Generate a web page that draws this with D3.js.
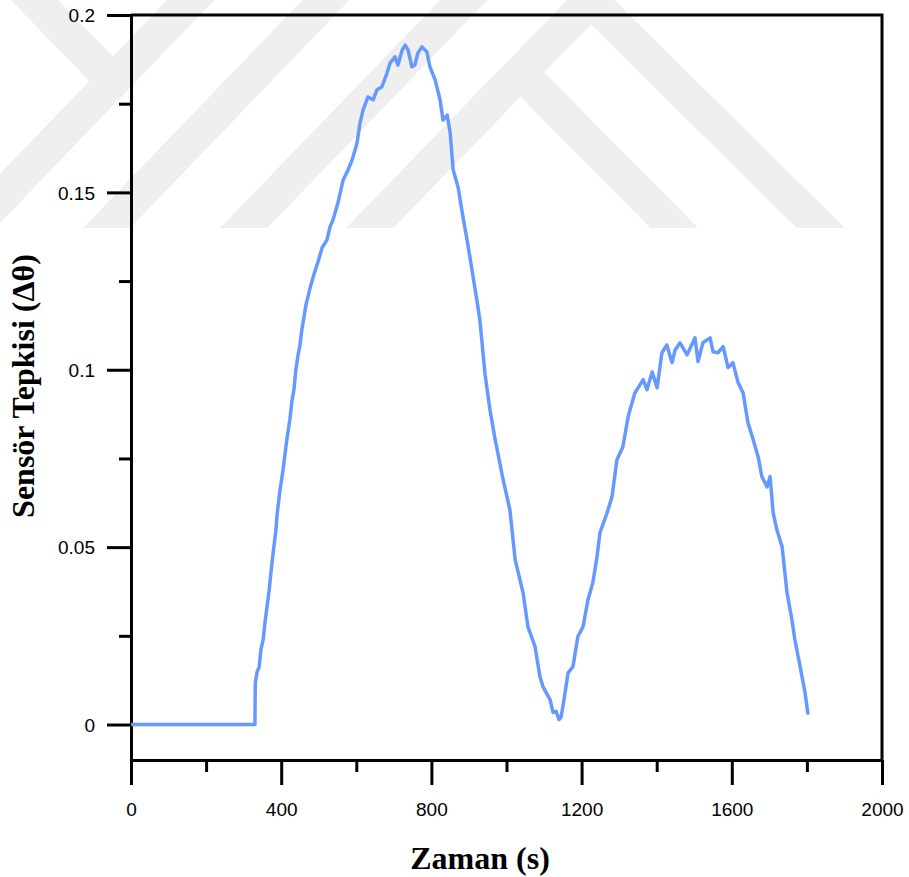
<!DOCTYPE html>
<html>
<head>
<meta charset="utf-8">
<script src="https://cdn.jsdelivr.net/npm/d3@7"></script>
<style>
  body { margin: 0; background: #fff; }
  svg { display: block; }
  .tick text { font-family: "Liberation Sans", Arial, sans-serif; font-size: 19px; fill: #000; }
  .title { font-family: "Liberation Serif", "Times New Roman", serif; font-weight: bold; font-size: 32px; fill: #000; }
</style>
</head>
<body>
<div id="wrapper"></div>
<script>
// values
const timeSec = [0, 330, 331, 336, 341, 346, 352, 357, 362, 368, 373, 378, 386, 389, 397, 405, 410, 415,
  423, 429, 434, 439, 445, 450, 455, 466, 477, 487, 498, 509, 522, 530, 538, 551, 565, 578, 589, 602,
  610, 618, 631, 645, 655, 668, 682, 690, 703, 711, 722, 730, 738, 748, 756, 764, 775, 788, 796, 810,
  823, 831, 842, 850, 858, 871, 884, 895, 908, 921, 929, 943, 956, 969, 991, 1009, 1023, 1044, 1057,
  1076, 1089, 1097, 1116, 1124, 1132, 1140, 1145, 1151, 1164, 1177, 1190, 1204, 1217, 1230, 1241,
  1249, 1268, 1281, 1294, 1310, 1324, 1342, 1364, 1374, 1388, 1401, 1414, 1427, 1441, 1449, 1462,
  1481, 1502, 1510, 1523, 1542, 1550, 1563, 1577, 1590, 1603, 1617, 1630, 1643, 1657, 1670, 1680,
  1694, 1702, 1710, 1720, 1734, 1747, 1760, 1768, 1782, 1795, 1803];
const response = [0, 0, 0.0118, 0.0149, 0.0161, 0.0211, 0.0239, 0.0290, 0.0330, 0.0380, 0.0431, 0.0479,
  0.0549, 0.0592, 0.0662, 0.0718, 0.0761, 0.0803, 0.0859, 0.0915, 0.0944, 0.1000, 0.1042, 0.1070,
  0.1113, 0.1183, 0.1231, 0.1268, 0.1304, 0.1344, 0.1366, 0.1403, 0.1423, 0.1470, 0.1535, 0.1563,
  0.1592, 0.1639, 0.1696, 0.1732, 0.1769, 0.1761, 0.1789, 0.1797, 0.1837, 0.1865, 0.1882, 0.1859,
  0.1901, 0.1915, 0.1901, 0.1854, 0.1859, 0.1893, 0.1910, 0.1896, 0.1854, 0.1817, 0.1761, 0.1704,
  0.1718, 0.1668, 0.1563, 0.1515, 0.1431, 0.1366, 0.1282, 0.1197, 0.1141, 0.0986, 0.0887, 0.0808,
  0.0690, 0.0606, 0.0465, 0.0372, 0.0276, 0.0220, 0.0135, 0.0107, 0.0070, 0.0034, 0.0037, 0.0014,
  0.0020, 0.0056, 0.0146, 0.0163, 0.0248, 0.0276, 0.0352, 0.0400, 0.0473, 0.0541, 0.0597, 0.0642,
  0.0746, 0.0783, 0.0868, 0.0935, 0.0972, 0.0944, 0.0994, 0.0949, 0.1048, 0.1070, 0.1020, 0.1056,
  0.1076, 0.1042, 0.1090, 0.1023, 0.1076, 0.1090, 0.1051, 0.1048, 0.1065, 0.1006, 0.1020, 0.0963,
  0.0935, 0.0851, 0.0803, 0.0755, 0.0699, 0.0670, 0.0699, 0.0597, 0.0549, 0.0501, 0.0372, 0.0296,
  0.0239, 0.0163, 0.0090, 0.0028];

const xMajor = [0, 400, 800, 1200, 1600, 2000];
const xMinor = [200, 600, 1000, 1400, 1800];
const yMajor = [0, 0.05, 0.1, 0.15, 0.2];
const yMinor = [0.025, 0.075, 0.125, 0.175];
const yLabels = ["0", "0.05", "0.1", "0.15", "0.2"];

const width = 909;
const height = 877;
const lineColor = "#6699ff";

const svg = d3.select("#wrapper")
              .append("svg")
              .attr("width", width)
              .attr("height", height);

// faint thesis watermark behind the chart
const wm = svg.append("g").attr("clip-path", "url(#wmclip)");
svg.append("clipPath").attr("id", "wmclip")
   .append("rect").attr("x", 0).attr("y", 0).attr("width", width).attr("height", 228);
const bands = [
  [[-40, 240], [210, -20]],
  [[95, 240], [350, -25]],
  [[232, 240], [488, -25]],
  [[358, 240], [615, -25]],
  [[20, -15], [112, 80]],
  [[590, 0], [835, 242]],
  [[510, 62], [688, 242]]
];
wm.selectAll("line")
  .data(bands)
  .enter().append("line")
  .attr("x1", d => d[0][0]).attr("y1", d => d[0][1])
  .attr("x2", d => d[1][0]).attr("y2", d => d[1][1])
  .style("stroke", "#efefef")
  .style("stroke-width", 34);

const x = d3.scaleLinear().domain([0, 2000]).range([131, 882]);
const y = d3.scaleLinear().domain([-0.01, 0.2]).range([760, 15]);

// minor ticks first, then major ones with labels
svg.append("g")
   .attr("transform", "translate(0,760)")
   .call(d3.axisBottom(x).tickValues(xMinor).tickSize(12).tickFormat(""))
   .call(g => g.select(".domain").remove());
svg.append("g")
   .attr("transform", "translate(131,0)")
   .call(d3.axisLeft(y).tickValues(yMinor).tickSize(12).tickFormat(""))
   .call(g => g.select(".domain").remove());

const xAxis = svg.append("g")
   .attr("transform", "translate(0,760)")
   .call(d3.axisBottom(x).tickValues(xMajor).tickSize(25).tickPadding(18).tickSizeOuter(0)
           .tickFormat(d3.format("d")));
const yAxis = svg.append("g")
   .attr("transform", "translate(131,0)")
   .call(d3.axisLeft(y).tickValues(yMajor).tickSize(24).tickPadding(12).tickSizeOuter(0)
           .tickFormat((d, i) => yLabels[i]));

svg.selectAll(".tick line").style("stroke", "#000").style("stroke-width", 3);
svg.selectAll(".domain").style("stroke", "#000").style("stroke-width", 3);
svg.selectAll(".tick text").attr("font-size", null).attr("font-family", null);
yAxis.selectAll(".tick text").attr("dy", "0.36em");

// top and right frame
svg.append("path")
   .attr("d", "M" + x(0) + "," + y(0.2) + "H" + x(2000) + "V" + y(-0.01))
   .style("fill", "none")
   .style("stroke", "#000")
   .style("stroke-width", 3);

const line = d3.line()
               .x((d, i) => x(timeSec[i]))
               .y(d => y(d));

svg.append("path")
   .datum(response)
   .attr("d", line)
   .style("fill", "none")
   .style("stroke", lineColor)
   .style("stroke-width", 3.5)
   .style("stroke-linejoin", "round");

svg.append("text")
   .attr("class", "title")
   .attr("x", 480)
   .attr("y", 869)
   .attr("text-anchor", "middle")
   .text("Zaman (s)");

svg.append("text")
   .attr("class", "title")
   .attr("transform", "translate(34,386) rotate(-90)")
   .attr("text-anchor", "middle")
   .text("Sensör Tepkisi (Δθ)");
</script>
</body>
</html>
